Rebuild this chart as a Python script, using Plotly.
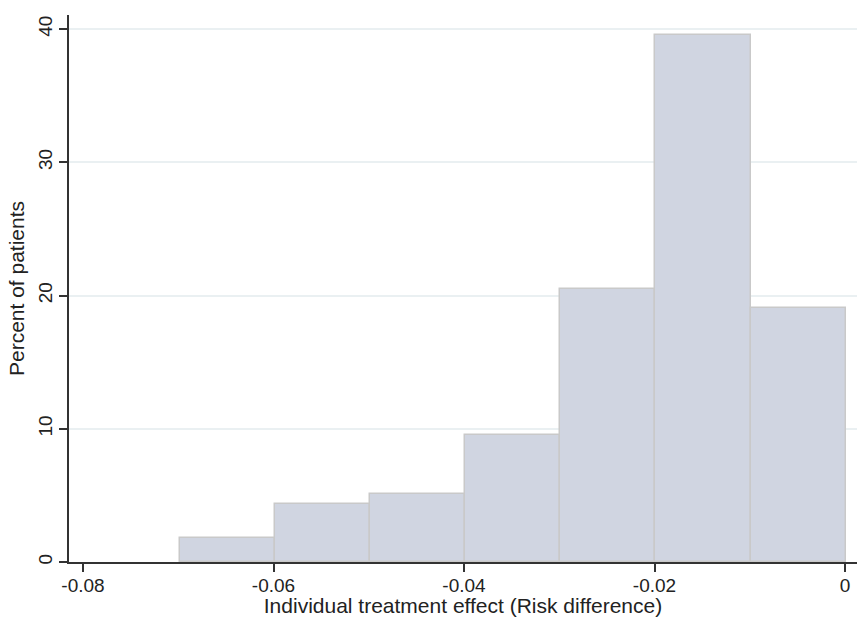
import plotly.graph_objects as go

# Data
bin_start = -0.0698
bin_width = 0.00998
percent_patients = [1.82, 4.38, 5.10, 9.53, 20.51, 39.57, 19.06]
x_tick_vals = [-0.08, -0.06, -0.04, -0.02, 0]
x_tick_text = ["-0.08", "-0.06", "-0.04", "-0.02", "0"]
y_tick_vals = [0, 10, 20, 30, 40]

centers = [bin_start + bin_width * (i + 0.5) for i in range(len(percent_patients))]

FONT = "Liberation Sans, Arial, Helvetica, sans-serif"

fig = go.Figure(
    go.Bar(
        x=centers,
        y=percent_patients,
        width=[bin_width] * len(percent_patients),
        marker=dict(color="#D0D5E1", line=dict(color="#C9C9C9", width=1.5)),
        hoverinfo="x+y",
    )
)

fig.update_layout(
    width=857,
    height=617,
    margin=dict(l=69, r=0, t=15, b=55),
    paper_bgcolor="white",
    plot_bgcolor="white",
    showlegend=False,
    bargap=0,
    font=dict(family=FONT, size=19, color="#222222"),
    xaxis=dict(
        automargin=False,
        range=[-0.08147, 0.00126],
        tickmode="array",
        tickvals=x_tick_vals,
        ticktext=x_tick_text,
        ticks="outside",
        ticklen=8,
        tickwidth=1.5,
        tickcolor="#333333",
        ticklabelstandoff=-3,
        showline=True,
        linecolor="#333333",
        linewidth=1.5,
        showgrid=False,
        zeroline=False,
        tickfont=dict(size=19),
        title=dict(text="Individual treatment effect (Risk difference)",
                   font=dict(size=21), standoff=2),
    ),
    yaxis=dict(
        automargin=False,
        range=[0, 41.05],
        tickmode="array",
        tickvals=y_tick_vals,
        ticks="outside",
        ticklen=8,
        tickwidth=1.5,
        tickcolor="#333333",
        tickangle=-90,
        showline=True,
        linecolor="#333333",
        linewidth=1.5,
        showgrid=True,
        gridcolor="#EAF0F2",
        gridwidth=1.5,
        zeroline=False,
        tickfont=dict(size=19),
        title=dict(text="Percent of patients", font=dict(size=21), standoff=4),
    ),
)

fig.write_html(
    "out.html",
    config={"displayModeBar": False},
    post_script="document.body.style.margin='0';document.body.style.padding='0';",
)
